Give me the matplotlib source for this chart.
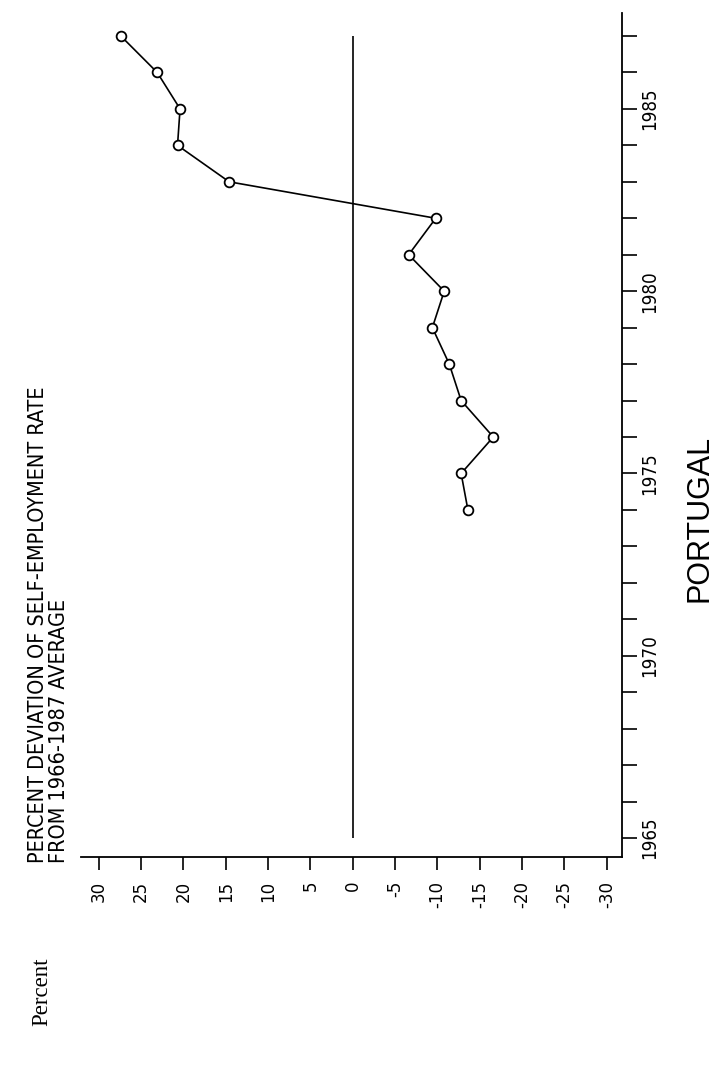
import matplotlib
matplotlib.use("Agg")
import matplotlib.pyplot as plt
from matplotlib import font_manager
from matplotlib.ticker import FixedLocator, MultipleLocator

years = [1974, 1975, 1976, 1977, 1978, 1979, 1980,
         1981, 1982, 1983, 1984, 1985, 1986, 1987]
deviation = [-13.6, -12.8, -16.6, -12.8, -11.4, -9.4, -10.8,
             -6.6, -9.8, 14.6, 20.7, 20.4, 23.1, 27.4]
percent_ticks = [30, 25, 20, 15, 10, 5, 0, -5, -10, -15, -20, -25, -30]
year_ticks = [1965, 1970, 1975, 1980, 1985]
zero_span = [1965, 1987]

title = "PERCENT DEVIATION OF SELF-EMPLOYMENT RATE\nFROM 1966-1987 AVERAGE"
country = "PORTUGAL"
axis_name = "Percent"

# the plotter lettering is narrow; use a condensed face when one is installed
condensed = any(f.name == "DejaVu Sans" and f.stretch == "condensed"
                for f in font_manager.fontManager.ttflist)
stretch = "condensed" if condensed else "normal"
title_size = 15.5 if condensed else 14
year_size = 13.5 if condensed else 12

plt.rcParams["axes.unicode_minus"] = False

W, H = 720, 1065
fig = plt.figure(figsize=(W / 100, H / 100), dpi=100)
ax = fig.add_axes([81 / W, 1 - 857 / H, (622 - 81) / W, (857 - 13) / H])

ax.set_xlim(32.1, -31.8)
ax.set_ylim(1964.48, 1987.63)

for side in ("top", "left"):
    ax.spines[side].set_visible(False)
for side in ("bottom", "right"):
    ax.spines[side].set_linewidth(1.3)

# zero reference line
ax.vlines(0, zero_span[0], zero_span[1], color="black", linewidth=1.2)

ax.plot(deviation, years, "-o", color="black", linewidth=1.2,
        markersize=7, markerfacecolor="white", markeredgecolor="black",
        markeredgewidth=1.3)

# percent axis (bottom after rotation)
ax.xaxis.set_major_locator(FixedLocator(percent_ticks))
ax.set_xticklabels([str(v) for v in percent_ticks], rotation=90,
                   fontsize=12, family="DejaVu Sans")
ax.tick_params(axis="x", direction="out", length=9, width=1.2, pad=8)

# year axis (right after rotation)
ax.yaxis.tick_right()
ax.yaxis.set_major_locator(FixedLocator(year_ticks))
ax.yaxis.set_minor_locator(MultipleLocator(1))
ax.set_yticklabels([str(y) for y in year_ticks], rotation=90, va="center",
                   fontsize=year_size, family="DejaVu Sans",
                   fontstretch=stretch)
ax.tick_params(axis="y", which="both", direction="out", length=11,
               width=1.2, pad=2)

fig.text(69 / W, 1 - 863 / H, title, rotation=90, ha="right", va="bottom",
         multialignment="left", fontsize=title_size, family="DejaVu Sans",
         fontstretch=stretch, linespacing=1.05)
fig.text(700 / W, 1 - 518 / H, country, rotation=90, ha="center",
         va="center", fontsize=22, family="Liberation Sans")
fig.text(42 / W, 1 - 992 / H, axis_name, rotation=90, ha="center",
         va="center", fontsize=16.5, family="Liberation Serif")

fig.savefig("out.png", dpi=100)
